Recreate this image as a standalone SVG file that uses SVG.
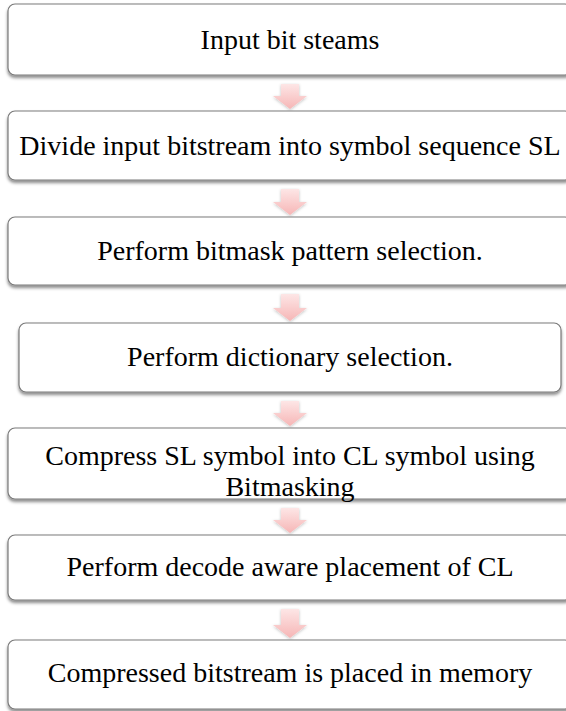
<svg xmlns="http://www.w3.org/2000/svg" width="566" height="711" viewBox="0 0 566 711">
<style>
.box{fill:#ffffff;stroke:#7a7a7a;stroke-width:1.2;filter:url(#sh)}
.t{font-family:"Liberation Serif","Times New Roman",serif;font-size:28px;fill:#000;text-anchor:middle}
.arr{fill:url(#pg);filter:url(#ash)}
</style>
<defs>
<filter id="sh" x="-5%" y="-20%" width="110%" height="150%">
<feDropShadow dx="0" dy="2.5" stdDeviation="1.5" flood-color="#000" flood-opacity="0.45"/>
</filter>
<filter id="ash" x="-50%" y="-50%" width="200%" height="200%">
<feDropShadow dx="0" dy="1" stdDeviation="1.5" flood-color="#000" flood-opacity="0.25"/>
</filter>
<linearGradient id="pg" x1="0" y1="0" x2="0" y2="1">
<stop offset="0" stop-color="#fde6e6"/>
<stop offset="1" stop-color="#f6b6b6"/>
</linearGradient>
</defs>
<g id="connectors">
<polygon class="arr" points="281,84 299,84 299,96 307,96 290,109 273,96 281,96"/>
<polygon class="arr" points="281,189 299,189 299,202 307,202 290,215 273,202 281,202"/>
<polygon class="arr" points="281,294 299,294 299,308 307,308 290,321 273,308 281,308"/>
<polygon class="arr" points="281,401 299,401 299,413 307,413 290,426 273,413 281,413"/>
<polygon class="arr" points="281,508 299,508 299,520 307,520 290,533 273,520 281,520"/>
<polygon class="arr" points="281,609 299,609 299,625 307,625 290,638 273,625 281,625"/>
</g>
<g id="n1"><rect class="box" x="8" y="4" width="564" height="71" rx="7"/><text class="t" x="290" y="49">Input bit steams</text></g>
<g id="n2"><rect class="box" x="8" y="111" width="564" height="69" rx="7"/><text class="t" x="290" y="155">Divide input bitstream into symbol sequence SL</text></g>
<g id="n3"><rect class="box" x="8" y="217" width="564" height="68" rx="7"/><text class="t" x="290" y="260">Perform bitmask pattern selection.</text></g>
<g id="n4"><rect class="box" x="19" y="323" width="542" height="69" rx="7"/><text class="t" x="290" y="366">Perform dictionary selection.</text></g>
<g id="n5"><rect class="box" x="8" y="428" width="564" height="71" rx="7"/><text class="t" x="290" y="465">Compress SL symbol into CL symbol using</text><text class="t" x="290" y="496">Bitmasking</text></g>
<g id="n6"><rect class="box" x="8" y="535" width="564" height="65" rx="7"/><text class="t" x="290" y="576">Perform decode aware placement of CL</text></g>
<g id="n7"><rect class="box" x="8" y="640" width="564" height="69" rx="7"/><text class="t" x="290" y="682">Compressed bitstream is placed in memory</text></g>
</svg>
